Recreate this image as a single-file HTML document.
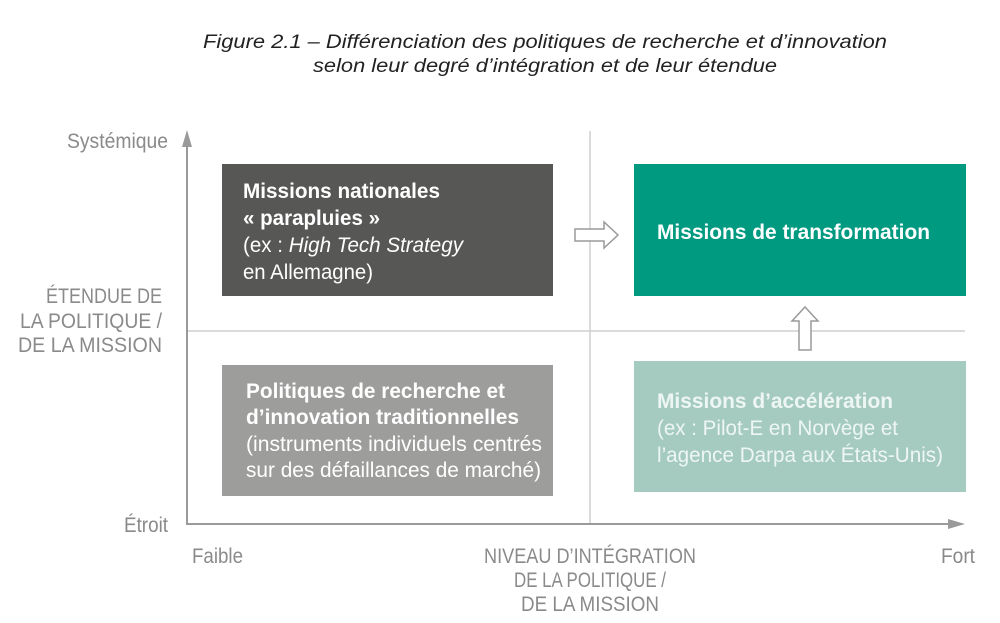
<!DOCTYPE html>
<html><head><meta charset="utf-8"><style>
html,body{margin:0;padding:0;background:#fff;}
svg{display:block;}
text{font-family:"Liberation Sans Narrow","Liberation Sans",sans-serif;}
</style></head><body>
<svg width="1000" height="623" viewBox="0 0 1000 623" xmlns="http://www.w3.org/2000/svg">
<g font-style="italic" font-size="19" fill="#222" text-anchor="middle" style="font-family:'Liberation Sans',sans-serif">
<text x="545" y="48" textLength="684" lengthAdjust="spacingAndGlyphs">Figure 2.1 – Différenciation des politiques de recherche et d’innovation</text>
<text x="545" y="72" textLength="464" lengthAdjust="spacingAndGlyphs">selon leur degré d’intégration et de leur étendue</text>
</g>
<line x1="590" y1="131" x2="590" y2="524" stroke="#cfcfcf" stroke-width="1.5"/>
<line x1="187" y1="331" x2="965" y2="331" stroke="#cfcfcf" stroke-width="1.5"/>
<line x1="187" y1="140" x2="187" y2="525" stroke="#9a9a9a" stroke-width="2"/>
<polygon points="187,130 182,147 192,147" fill="#9a9a9a"/>
<line x1="186" y1="524" x2="955" y2="524" stroke="#9a9a9a" stroke-width="2"/>
<polygon points="965,524 948,519 948,529" fill="#9a9a9a"/>
<rect x="222" y="164" width="331" height="132" fill="#575756"/>
<rect x="222" y="365" width="331" height="131" fill="#9d9d9c"/>
<rect x="634" y="164" width="332" height="132" fill="#009a80"/>
<rect x="634" y="361" width="332" height="131" fill="#a5cbc0"/>
<polygon points="575,229 604,229 604,222 618,235 604,248 604,241 575,241" fill="#fff" stroke="#9a9a9a" stroke-width="1.5"/>
<polygon points="799,350 799,321 792,321 805,307 818,321 811,321 811,350" fill="#fff" stroke="#9a9a9a" stroke-width="1.5"/>
<g fill="#8a8a8a" font-size="21">
<text x="168" y="148" text-anchor="end" textLength="101" lengthAdjust="spacingAndGlyphs">Systémique</text>
<text x="162" y="303" text-anchor="end" textLength="116" lengthAdjust="spacingAndGlyphs">ÉTENDUE DE</text>
<text x="162" y="328" text-anchor="end" textLength="142" lengthAdjust="spacingAndGlyphs">LA POLITIQUE /</text>
<text x="162" y="352" text-anchor="end" textLength="144" lengthAdjust="spacingAndGlyphs">DE LA MISSION</text>
<text x="168" y="532" text-anchor="end" textLength="44" lengthAdjust="spacingAndGlyphs">Étroit</text>
<text x="192" y="563" textLength="51" lengthAdjust="spacingAndGlyphs">Faible</text>
<text x="975" y="563" text-anchor="end" textLength="34" lengthAdjust="spacingAndGlyphs">Fort</text>
<text x="590" y="563" text-anchor="middle" textLength="212" lengthAdjust="spacingAndGlyphs">NIVEAU D’INTÉGRATION</text>
<text x="590" y="587" text-anchor="middle" textLength="152" lengthAdjust="spacingAndGlyphs">DE LA POLITIQUE /</text>
<text x="590" y="611" text-anchor="middle" textLength="138" lengthAdjust="spacingAndGlyphs">DE LA MISSION</text>
</g>
<g fill="#fff" font-size="21">
<text x="243" y="198" font-weight="bold" textLength="197" lengthAdjust="spacingAndGlyphs">Missions nationales</text>
<text x="243" y="225" font-weight="bold" textLength="137" lengthAdjust="spacingAndGlyphs">« parapluies »</text>
<text x="243" y="252" textLength="220" lengthAdjust="spacingAndGlyphs">(ex : <tspan font-style="italic">High Tech Strategy</tspan></text>
<text x="243" y="279" textLength="130" lengthAdjust="spacingAndGlyphs">en Allemagne)</text>
<text x="246" y="398" font-weight="bold" textLength="259" lengthAdjust="spacingAndGlyphs">Politiques de recherche et</text>
<text x="246" y="424" font-weight="bold" textLength="273" lengthAdjust="spacingAndGlyphs">d’innovation traditionnelles</text>
<text x="246" y="451" textLength="296" lengthAdjust="spacingAndGlyphs">(instruments individuels centrés</text>
<text x="246" y="477" textLength="295" lengthAdjust="spacingAndGlyphs">sur des défaillances de marché)</text>
<text x="657" y="239" font-weight="bold" textLength="273" lengthAdjust="spacingAndGlyphs">Missions de transformation</text>
</g>
<g fill="#eef6f3" font-size="21">
<text x="657" y="408" font-weight="bold" textLength="236" lengthAdjust="spacingAndGlyphs">Missions d’accélération</text>
<text x="657" y="435" textLength="241" lengthAdjust="spacingAndGlyphs">(ex : Pilot-E en Norvège et</text>
<text x="657" y="462" textLength="286" lengthAdjust="spacingAndGlyphs">l’agence Darpa aux États-Unis)</text>
</g>
</svg>
</body></html>
